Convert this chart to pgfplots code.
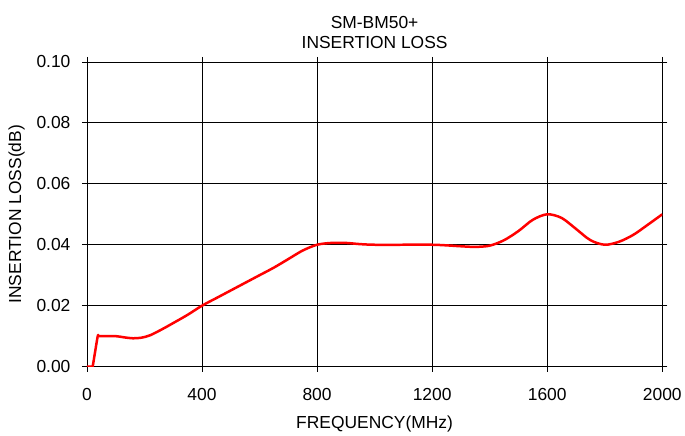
\documentclass[border=0pt]{standalone}
\usepackage{fontspec}
\setmainfont{Liberation Sans}
\usepackage{pgfplots}
\pgfplotsset{compat=1.18}
\usetikzlibrary{calc}
\begin{document}
\begin{tikzpicture}[x=1bp,y=1bp]
\begin{axis}[
  scale only axis,
  width=576bp, height=305bp,
  xmin=0, xmax=2000, ymin=0, ymax=0.1,
  xtick={0,400,...,2000},
  ytick={0,0.02,...,0.1},
  xticklabel style={/pgf/number format/1000 sep={}},
  yticklabel style={/pgf/number format/fixed, /pgf/number format/fixed zerofill, /pgf/number format/precision=2},
  /pgf/number format/assume math mode=true,
  grid=major,
  major grid style={black, line width=0.8bp},
  axis line style={black, line width=0.8bp},
  tick style={black, line width=0.8bp},
  tick align=outside,
  major tick length=5bp,
  ticklabel style={font=\fontsize{17.5}{21}\selectfont},
  xticklabel style={yshift=-13bp},
  yticklabel style={xshift=-8bp},
  label style={font=\fontsize{17.5}{21}\selectfont},
  title style={font=\fontsize{17.5}{20}\selectfont, align=center, yshift=4bp},
  title={SM-BM50+\\INSERTION LOSS},
  xlabel={FREQUENCY(MHz)},
  ylabel={INSERTION LOSS(dB)},
  xlabel style={yshift=-9bp},
  ylabel style={yshift=5bp},
  scaled y ticks=false,
]
\addplot[red, line width=2.5bp, line join=round, smooth, tension=0.5] coordinates {
(0,0) (18,0) (20,0) (37,0.0097) (40,0.010) (45,0.010) (100,0.010) (130,0.0096) (160,0.0093) (190,0.0095)
(220,0.0103) (260,0.0122) (300,0.0143) (350,0.0170) (400,0.0200) (450,0.0225)
(500,0.0250) (550,0.0275) (600,0.0300) (650,0.0325) (700,0.0353) (750,0.0381)
(800,0.0400) (850,0.0406) (900,0.0406) (950,0.0402) (1000,0.0400) (1100,0.0400)
(1200,0.0400) (1250,0.0398) (1300,0.0395) (1350,0.0393) (1400,0.0397)
(1450,0.0415) (1500,0.0445) (1550,0.0482) (1600,0.0500) (1650,0.0488)
(1700,0.0452) (1750,0.0415) (1800,0.0400) (1850,0.0410) (1900,0.0433)
(1950,0.0466) (2000,0.0500)
};
\end{axis}
\path ($(current axis.south west)+(-87bp,-69bp)$) rectangle ($(current axis.north east)+(22bp,62bp)$);
\end{tikzpicture}
\end{document}
